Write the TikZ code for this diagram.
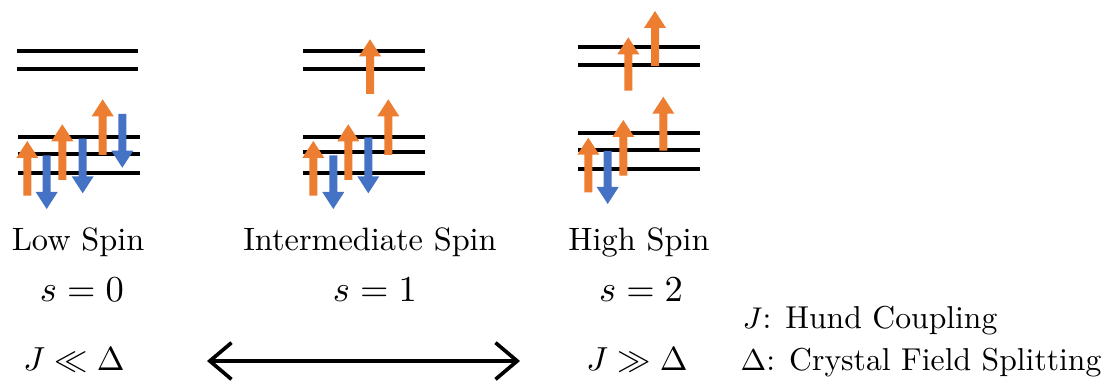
\documentclass[tikz,border=0pt]{standalone}
\usetikzlibrary{arrows.meta}
\definecolor{upC}{HTML}{ED7D31}
\definecolor{dnC}{HTML}{4472C4}
\newcommand\spinup[3]{\fill[upC] ({#1-4},#2) -- ({#1-4},{#3+17}) -- ({#1-11},{#3+17}) -- (#1,#3) -- ({#1+11},{#3+17}) -- ({#1+4},{#3+17}) -- ({#1+4},#2) -- cycle;}
\newcommand\spindn[3]{\fill[dnC] ({#1-4},#2) -- ({#1-4},{#3-17}) -- ({#1-11},{#3-17}) -- (#1,#3) -- ({#1+11},{#3-17}) -- ({#1+4},{#3-17}) -- ({#1+4},#2) -- cycle;}
\tikzset{
  level/.style={line width=1.2pt, black},
  lbl/.style={anchor=base, inner sep=0pt, font=\fontsize{9.7}{11}\selectfont},
  slbl/.style={anchor=base, inner sep=0pt, font=\fontsize{11}{13}\selectfont},
  jlbl/.style={anchor=base, inner sep=0pt, font=\fontsize{9.9}{12}\selectfont},
  leg/.style={anchor=base west, inner sep=0pt, font=\fontsize{9.5}{11}\selectfont},
}
\begin{document}
\begin{tikzpicture}[x=0.3pt,y=-0.3pt]
\useasboundingbox (0,0) rectangle (1105,383);
% Low spin levels
\draw[level] (17,50.7) -- (138,50.7);
\draw[level] (17,69.3) -- (138,69.3);
\draw[level] (18,136.7) -- (140,136.7);
\draw[level] (18,154.3) -- (140,154.3);
\draw[level] (18,173.3) -- (140,173.3);
\spinup{27.3}{195.7}{141}
\spindn{46.7}{155.3}{209}
\spinup{62.3}{180}{124.3}
\spindn{82.7}{138.7}{193.3}
\spinup{102.7}{155}{99.3}
\spindn{122.3}{114}{167.7}
% Intermediate spin levels
\draw[level] (303,50.7) -- (425,50.7);
\draw[level] (303,69) -- (425,69);
\draw[level] (303,136.7) -- (425,136.7);
\draw[level] (303,151.7) -- (425,151.7);
\draw[level] (303,173.3) -- (425,173.3);
\spinup{370}{94}{39.3}
\spinup{388.3}{155}{99.3}
\spinup{313.3}{195.7}{141}
\spindn{333.3}{155.3}{209}
\spinup{348.3}{180}{124.3}
\spindn{368.3}{137.3}{193.3}
% High spin levels
\draw[level] (578,46.7) -- (700,46.7);
\draw[level] (578,65) -- (700,65);
\draw[level] (578,133.3) -- (700,133.3);
\draw[level] (578,150) -- (700,150);
\draw[level] (578,169.3) -- (700,169.3);
\spinup{628.3}{90.7}{37.3}
\spinup{655}{66}{11}
\spinup{663.3}{150.7}{96.7}
\spinup{588.3}{192.3}{137.7}
\spindn{607.7}{151}{204}
\spinup{623.3}{175.7}{120}
% Labels
\node[lbl] (ls) at (78,250) {Low Spin};
\node[lbl] (is) at (370,250) {Intermediate Spin};
\node[lbl] (hs) at (639,250) {High Spin};
\node[slbl] (s0) at (82,301) {$s=0$};
\node[slbl] (s1) at (375,301) {$s=1$};
\node[slbl] (s2) at (641,301) {$s=2$};
\node[jlbl] (jl) at (74,370) {$J\ll\Delta$};
\node[jlbl] (jg) at (637,370) {$J\gg\Delta$};
\node[leg] (lj) at (742,328) {$J$: Hund Coupling};
\node[leg] (ld) at (740,370) {$\Delta$: Crystal Field Splitting};
\coordinate (al) at (207,361);
\coordinate (ar) at (520,361);
\draw[line width=1.1pt, {Straight Barb[length=6.5pt,width=11pt]}-{Straight Barb[length=6.5pt,width=11pt]}] (al) -- (ar);
\end{tikzpicture}
\end{document}
